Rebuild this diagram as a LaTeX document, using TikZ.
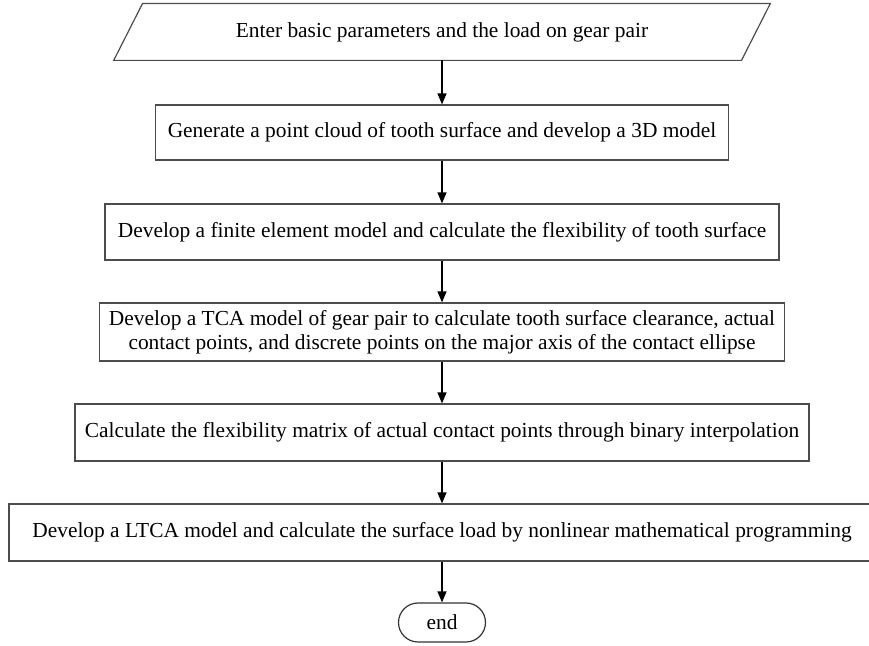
\documentclass[tikz,border=0pt]{standalone}
\usepackage{fontspec}
\setmainfont{Liberation Serif}
\usetikzlibrary{shapes.misc,arrows.meta}
\tikzset{
  stepbox/.style={draw=black!70, line width=0.6pt, rectangle, align=center, inner sep=2pt},
  inbox/.style={rectangle, align=center, inner sep=2pt},
  slant/.style={draw=black!70, line width=0.6pt, line join=miter},
  endbox/.style={draw=black!80, line width=0.6pt, rounded rectangle, inner sep=2pt},
  flow/.style={-{Triangle[length=5.5pt,width=4.5pt]}, line width=0.65pt}
}
\begin{document}
\begin{tikzpicture}[x=0.5pt,y=-0.5pt,font=\fontsize{10.7}{12}\selectfont]
\useasboundingbox (0,0) rectangle (869,646);
% steps
\node[inbox, minimum width=313.5pt, minimum height=28pt] (input) at (442,32) {Enter basic parameters and the load on gear pair};
\draw[slant] ([xshift=7.2pt]input.north west) -- ([xshift=7.2pt]input.north east)
  -- ([xshift=-7.2pt]input.south east) -- ([xshift=-7.2pt]input.south west) -- cycle;
\node[stepbox, minimum width=286.5pt, minimum height=27.5pt] (cloud) at (442,132.5) {Generate a point cloud of tooth surface and develop a 3D model};
\node[stepbox, minimum width=337pt, minimum height=28pt] (fem) at (442,232) {Develop a finite element model and calculate the flexibility of tooth surface};
\node[stepbox, minimum width=342.5pt, minimum height=29pt] (tca) at (442,332) {Develop a TCA model of gear pair to calculate tooth surface clearance, actual\\contact points, and discrete points on the major axis of the contact ellipse};
\node[stepbox, minimum width=367pt, minimum height=28.5pt] (flex) at (442,432.5) {Calculate the flexibility matrix of actual contact points through binary interpolation};
\node[stepbox, minimum width=433pt, minimum height=28.5pt] (ltca) at (442,532.5) {Develop a LTCA model and calculate the surface load by nonlinear mathematical programming};
\node[endbox, minimum width=47.5pt, minimum height=19.5pt] (stop) at (442,622.5) {end};
% arrows
\draw[flow] (input) -- (cloud);
\draw[flow] (cloud) -- (fem);
\draw[flow] (fem) -- (tca);
\draw[flow] (tca) -- (flex);
\draw[flow] (flex) -- (ltca);
\draw[flow] (ltca) -- (stop);
\end{tikzpicture}
\end{document}
